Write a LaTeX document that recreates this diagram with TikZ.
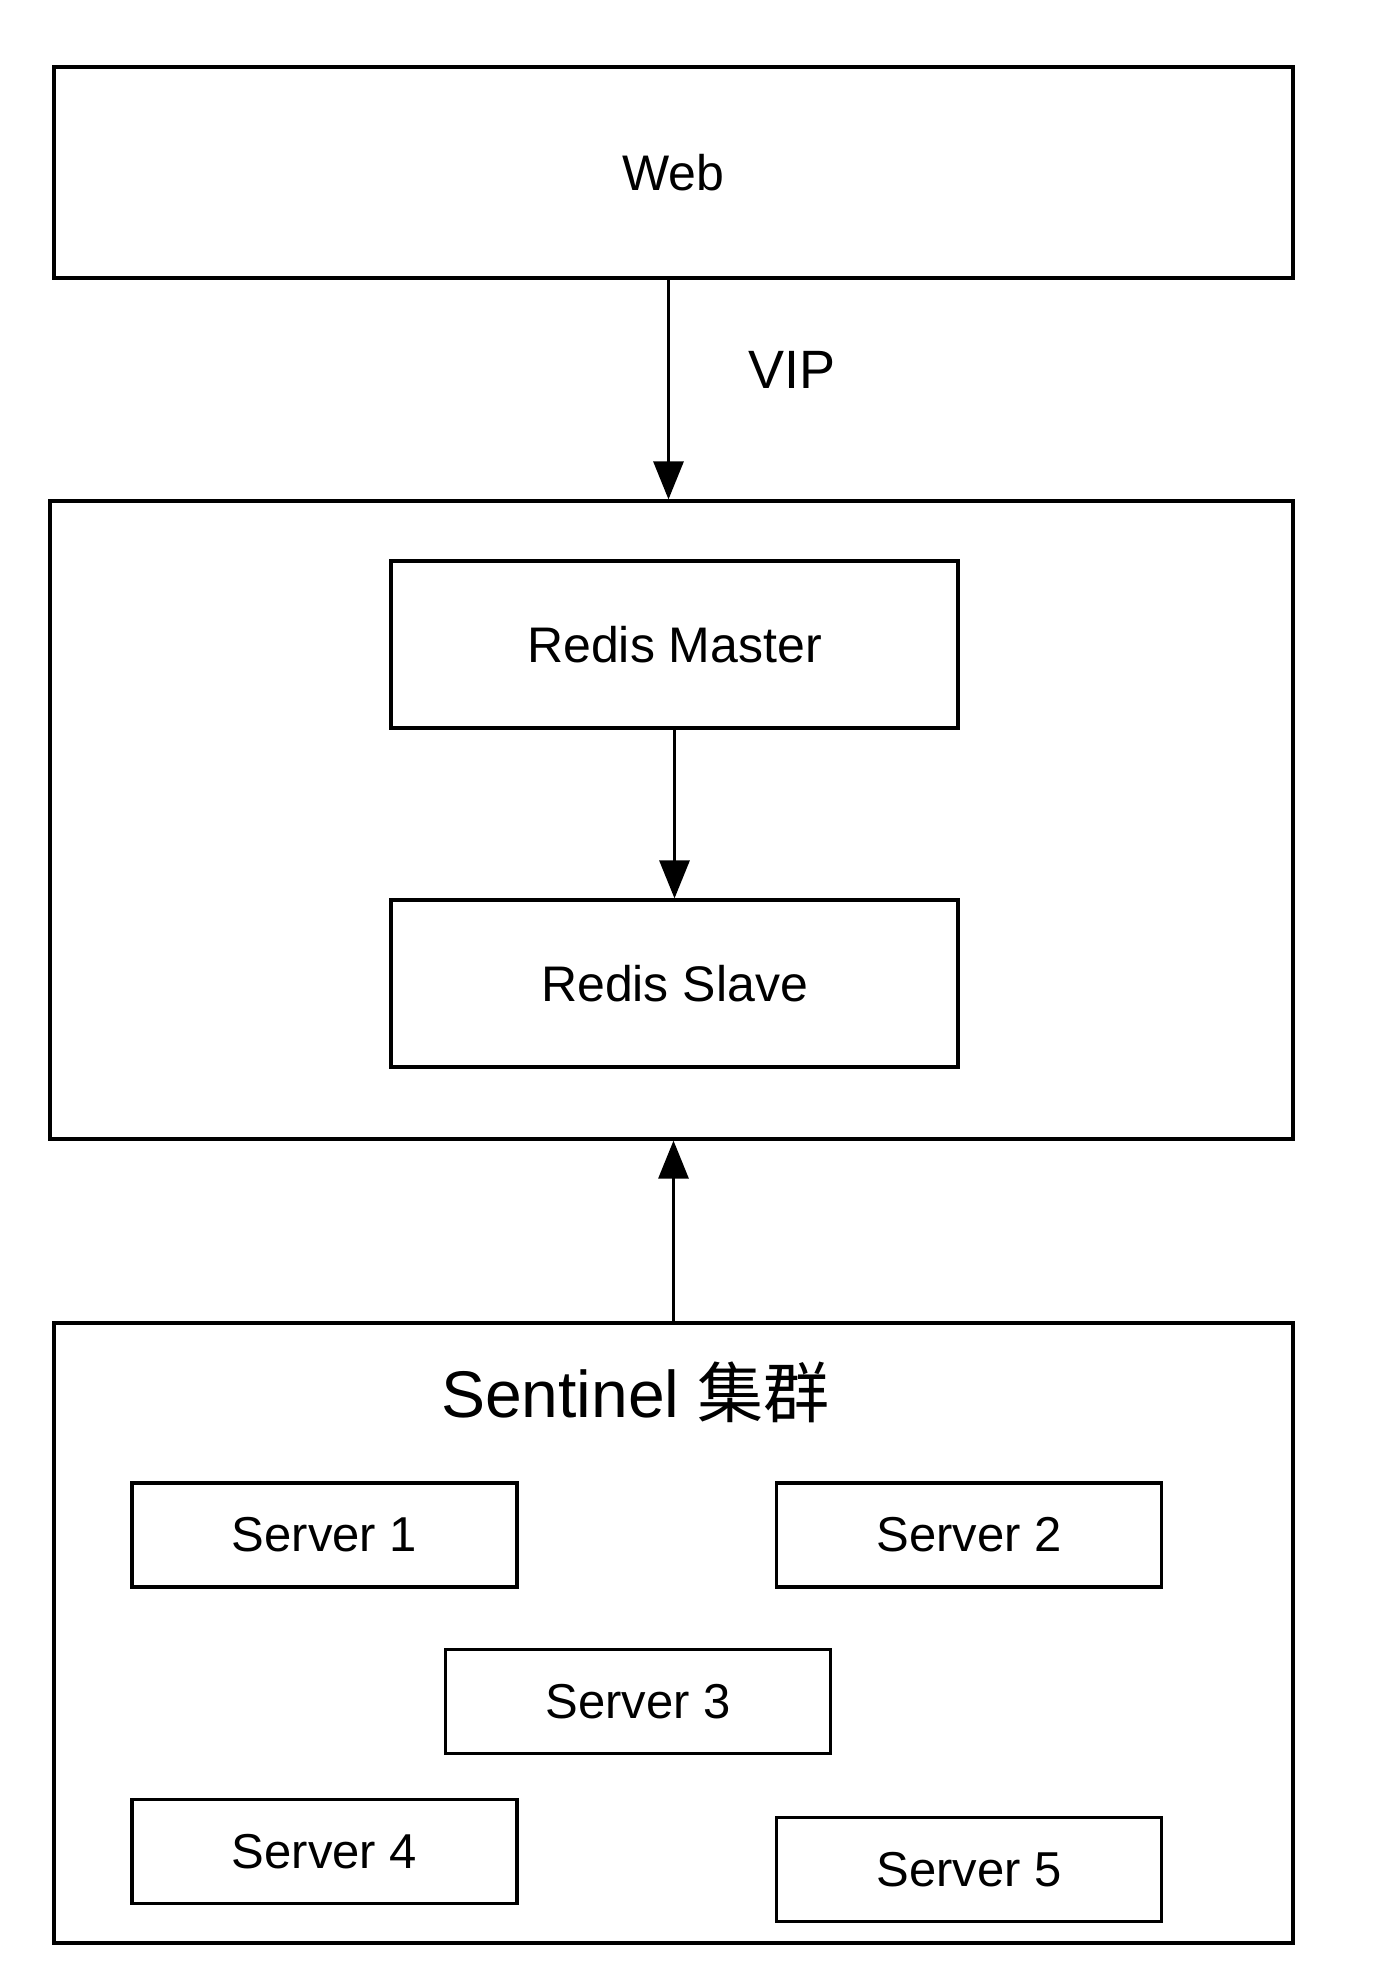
\documentclass[tikz,border=0pt]{standalone}
\usepackage{fontspec}
\setmainfont{Liberation Sans}
\newfontfamily\cjk{Noto Sans CJK SC}
\usetikzlibrary{calc}
\usetikzlibrary{arrows.meta}

\begin{document}
\begin{tikzpicture}[
        x=0.5pt, y=-0.5pt,
        box/.style={draw,rectangle,line width=1.6pt,inner sep=0pt,font=\fontsize{25pt}{30pt}\selectfont},
        server/.style={box,minimum width=192.5pt,minimum height=52pt,font=\fontsize{24.5pt}{29pt}\selectfont},
        >={Triangle[length=19pt,width=15pt]}
    ]
        \useasboundingbox (0,0) rectangle (1396,1976);
        \node[box,minimum width=619.5pt,minimum height=105.5pt] (web) at (673.5,172.5) {Web};
        \node[box,minimum width=621.5pt,minimum height=319pt] (redis) at (671.5,820) {};
        \node[box,minimum width=283.5pt,minimum height=83.5pt] (master) at (674.5,644.5) {Redis Master};
        \node[box,minimum width=283.5pt,minimum height=83.5pt] (slave) at (674.5,983.5) {Redis Slave};
        \node[box,minimum width=619.5pt,minimum height=310pt] (sentinel) at (673.5,1633) {};
        \node[anchor=base,font=\fontsize{33pt}{39pt}\selectfont] (title) at (635.5,1417) {Sentinel {\cjk 集群}};
        \node[server] (s1) at (324.5,1535) {Server 1};
        \node[server] (s2) at (969,1535) {Server 2};
        \node[server] (s3) at (638,1701.5) {Server 3};
        \node[server] (s4) at (324.5,1851.5) {Server 4};
        \node[server] (s5) at (969,1869.5) {Server 5};
        \node[anchor=base,font=\fontsize{27pt}{32pt}\selectfont] (vip) at (792,388) {VIP};
        \draw[->,line width=1.5pt] ($(web.south)+(-5,0)$) -- ($(web.south |- redis.north)+(-5,0)$);
        \draw[->,line width=1.5pt] (master) -- (slave);
        \draw[->,line width=1.5pt] (sentinel.north) -- (sentinel.north |- redis.south);
    \end{tikzpicture}
\end{document}
